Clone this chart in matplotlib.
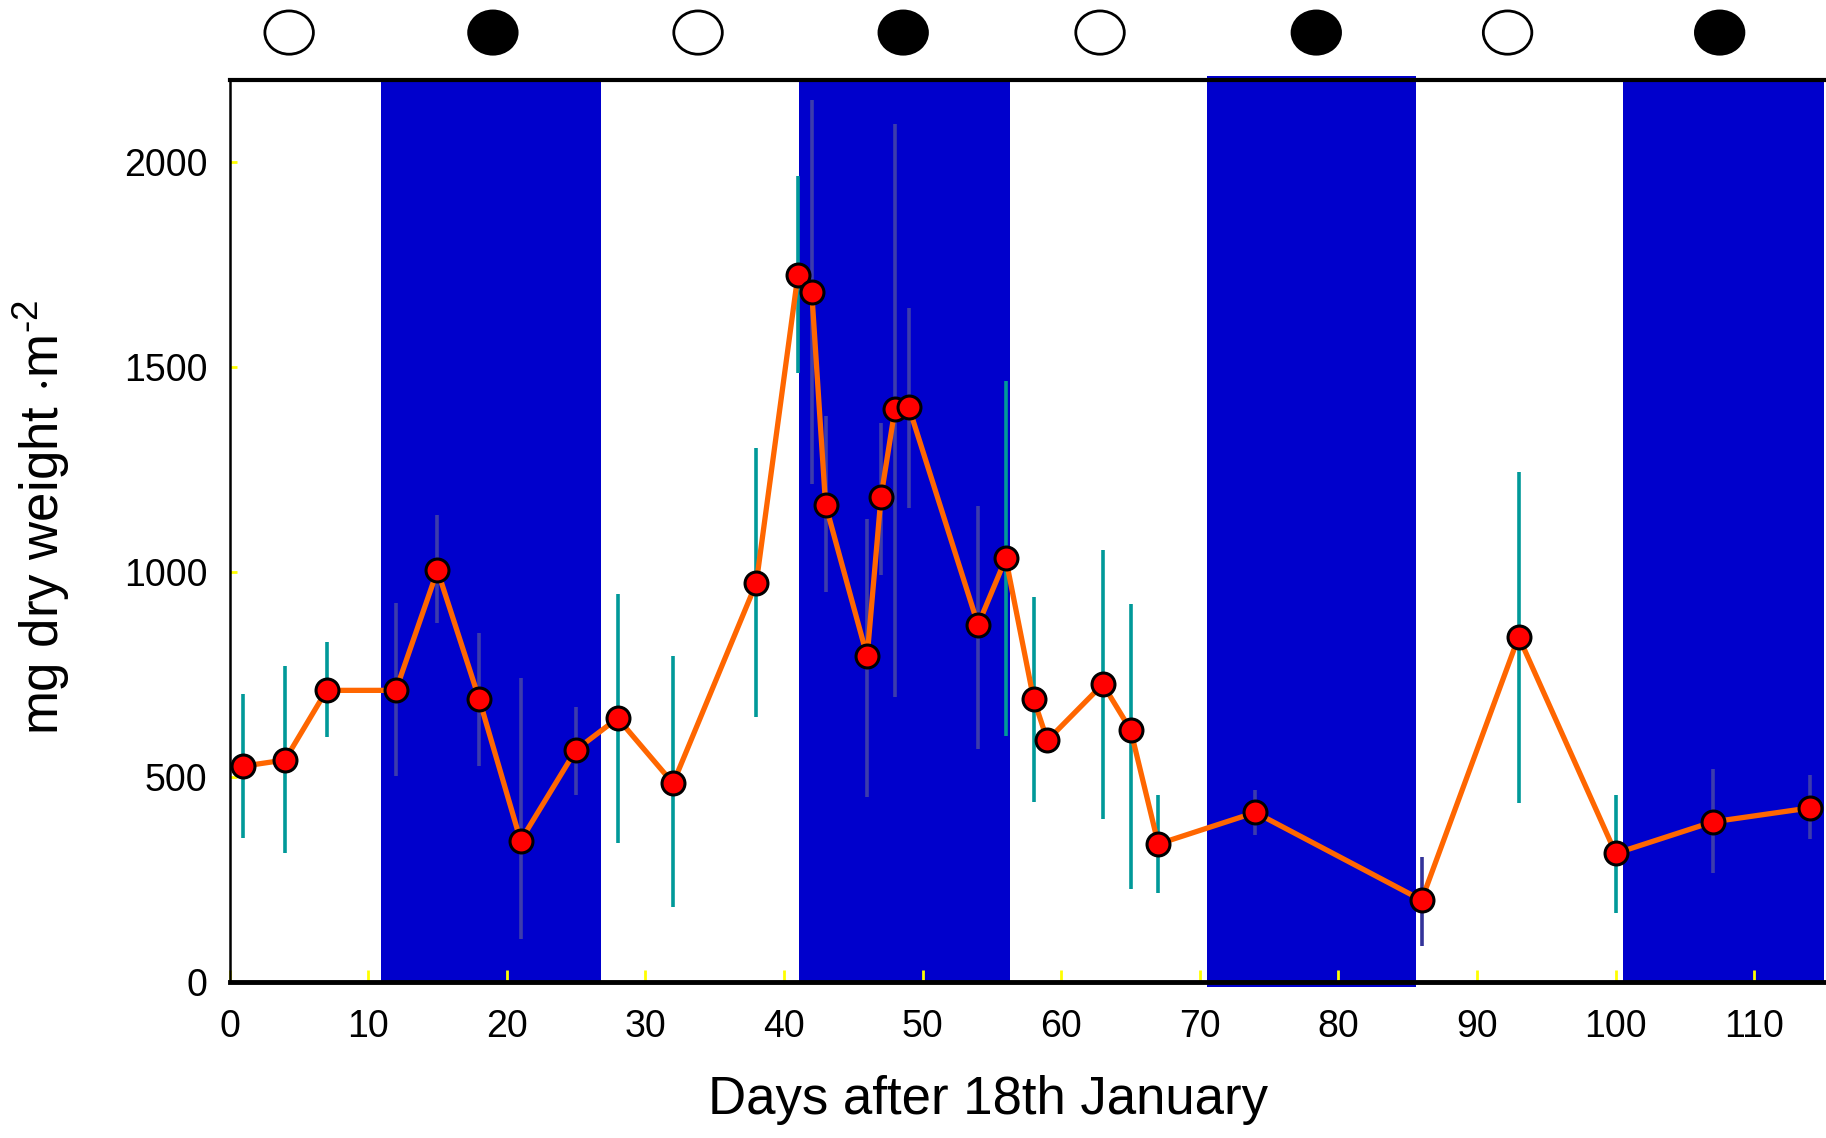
import numpy as np
import matplotlib
matplotlib.use('Agg')
import matplotlib.pyplot as plt
from matplotlib.patches import Rectangle, Ellipse

plt.rcParams['font.family'] = ['Liberation Sans', 'DejaVu Sans']
plt.rcParams['mathtext.fontset'] = 'custom'
plt.rcParams['mathtext.rm'] = 'Liberation Sans'
plt.rcParams['mathtext.it'] = 'Liberation Sans'

# sampling days and dry weight (mg m-2)
days = [1, 4, 7, 12, 15, 18, 21, 25, 28, 32, 38, 41, 42, 43, 46, 47, 48, 49,
        54, 56, 58, 59, 63, 65, 67, 74, 86, 93, 100, 107, 114]
weight = [526, 541, 711, 711, 1004, 691, 344, 566, 643, 484, 973, 1724, 1684,
          1164, 794, 1184, 1397, 1403, 871, 1033, 691, 589, 726, 615, 336,
          413, 199, 842, 313, 390, 424]
err_low = [350, 313, 597, 501, 876, 526, 105, 455, 339, 182, 646, 1485, 1215,
           950, 450, 993, 694, 1155, 569, 600, 438, 560, 398, 225, 216,
           358, 88, 435, 168, 265, 347]
err_high = [703, 771, 828, 925, 1138, 851, 740, 671, 947, 794, 1303, 1966, 2151,
            1380, 1130, 1363, 2094, 1645, 1161, 1465, 939, 620, 1053, 922, 455,
            467, 304, 1243, 455, 518, 504]
# 't' = teal bar, 'g' = greyish bar on the blue bands, 'n' = navy
err_col = ['t', 't', 't', 'g', 'g', 'g', 'g', 'g', 't', 't', 't', 't', 'g',
           'g', 'g', 'g', 'g', 'g', 'g', 't', 't', 't', 't', 't', 't',
           'g', 'n', 't', 't', 'g', 'g']

# dark periods (blue bands)
band_start = [10.9, 41.1, 70.5, 100.5]
band_end = [26.8, 56.3, 85.6, 115]

# moon phases at the top
full_moon = [4.3, 33.8, 62.8, 92.2]
new_moon = [19.0, 48.6, 78.4, 107.5]

colors = {'t': '#009999', 'g': '#3c3cac', 'n': '#333399'}

fig = plt.figure(figsize=(18.26, 11.38), dpi=100)
ax = fig.add_axes([0.1257, 0.1374, 0.873, 0.792])
ax.set_xlim(0, 115)
ax.set_ylim(0, 2200)

trans = ax.get_xaxis_transform()
for i, (s, e) in enumerate(zip(band_start, band_end)):
    if i == 2:
        r = Rectangle((s, -0.006), e - s, 1.011, transform=trans, color='#0000cc',
                      zorder=0.5, clip_on=False, lw=0)
    else:
        r = Rectangle((s, 0), e - s, 1, transform=trans, color='#0000cc', zorder=0.5, lw=0)
    ax.add_patch(r)

for d, lo, hi, c in zip(days, err_low, err_high, err_col):
    ax.plot([d, d], [lo, hi], color=colors[c], lw=2.6, zorder=1, solid_capstyle='butt')

ax.plot(days, weight, color='#ff6600', lw=3.8, zorder=2)
ax.plot(days, weight, 'o', ms=16.5, mfc='#ff0000', mec='black', mew=2.2, zorder=3)

for d in full_moon:
    ax.add_patch(Ellipse((d, 1.053), 3.5, 0.048, transform=trans, fc='white',
                         ec='black', lw=2, clip_on=False))
for d in new_moon:
    ax.add_patch(Ellipse((d, 1.053), 3.5, 0.048, transform=trans, fc='black',
                         ec='black', lw=2, clip_on=False))

ax.set_xticks(np.arange(0, 111, 10))
ax.set_yticks(np.arange(0, 2001, 500))
ax.tick_params(axis='both', direction='in', color='#ffff00', width=2, labelsize=27)
ax.tick_params(axis='x', length=9, pad=20)
ax.tick_params(axis='y', length=5, pad=16)

ax.spines['right'].set_visible(False)
ax.spines['top'].set_linewidth(3)
ax.spines['bottom'].set_linewidth(3.5)
ax.spines['left'].set_linewidth(1.8)

ax.set_xlabel('Days after 18th January', fontsize=38)
ax.xaxis.set_label_coords(0.476, -0.104)
ax.set_ylabel('mg dry weight $\\cdot$m$^{\\text{-2}}$', fontsize=38)
ax.yaxis.set_label_coords(-0.099, 0.515)

fig.savefig('out.png', dpi=100)
